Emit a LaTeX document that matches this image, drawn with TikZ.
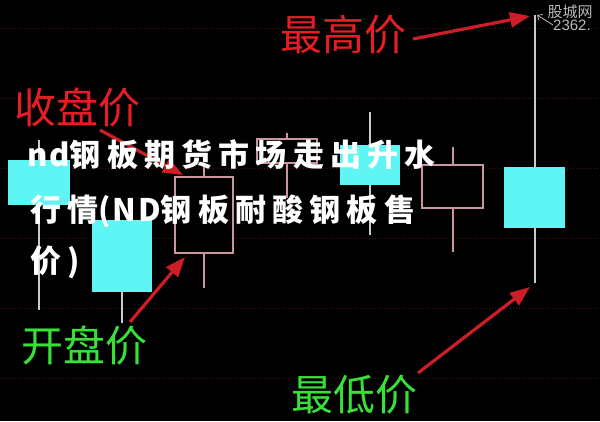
\documentclass[tikz,border=0pt]{standalone}
\usepackage{fontspec}
\usetikzlibrary{arrows.meta}
\newfontfamily\cjk{Noto Sans CJK SC}
\newfontfamily\cjkhand[LetterSpace=20]{Noto Sans CJK SC}
\newfontfamily\cjkhandlat[LetterSpace=6]{Noto Sans CJK SC}
\newfontfamily\latsans{Liberation Sans}
\definecolor{cyanc}{RGB}{95,245,245}
\definecolor{wickc}{RGB}{195,205,205}
\definecolor{outc}{RGB}{200,150,155}
\definecolor{gridc}{RGB}{75,18,18}
\definecolor{redlbl}{RGB}{228,30,36}
\definecolor{greenlbl}{RGB}{55,225,55}
\definecolor{arrowc}{RGB}{205,30,40}
\definecolor{wmc}{RGB}{185,185,185}
\tikzset{
  gridline/.style={gridc, line width=1pt, dash pattern=on 1pt off 2pt},
  cbox/.style={draw=none, fill=cyanc, inner sep=0pt, outer sep=0pt},
  obox/.style={draw=outc, line width=1.8pt, fill=black, inner sep=0pt, outer sep=0pt},
  cwick/.style={wickc, line width=1.8pt},
  owick/.style={outc, line width=1.8pt},
  redlabel/.style={text=redlbl, font=\cjk\fontsize{42}{46}\selectfont, inner sep=0pt},
  greenlabel/.style={text=greenlbl, font=\cjk\fontsize{42}{46}\selectfont, inner sep=0pt},
  callout/.style={arrowc, line width=3.2pt, -{Triangle[length=20pt,width=15pt]}},
  handtext/.style={text=white, font=\cjkhand\bfseries\fontsize{31}{36}\selectfont, inner sep=0pt, anchor=base west},
}
\begin{document}
\begin{tikzpicture}[x=1pt,y=-1pt]
\fill[black] (0,0) rectangle (600,421);
\useasboundingbox (0,0) rectangle (600,421);
% dotted grid
\foreach \yy in {28,98,168,238,308,378}
  \draw[gridline] (0,\yy) -- (600,\yy);
% candle 1 (cyan)
\coordinate (w1t) at (39,140); \coordinate (w1b) at (39,310);
\draw[cwick] (w1t) -- (w1b);
\node[cbox, minimum width=62pt, minimum height=45pt] (c1) at (39,182.5) {};
% candle 2 (cyan)
\node[cbox, minimum width=60pt, minimum height=72pt] (c2) at (122,256) {};
\coordinate (w2b) at (122,323);
\draw[cwick] (c2.south) -- (w2b);
% candle 3 (hollow)
\coordinate (w3t) at (204,163); \coordinate (w3b) at (204,288);
\draw[owick] (w3t) -- (w3b);
\node[obox, minimum width=58pt, minimum height=76pt] (c3) at (204,215) {};
% candle 4 (hollow)
\coordinate (w4t) at (287,133); \coordinate (w4b) at (287,198);
\draw[owick] (w4t) -- (w4b);
\node[obox, minimum width=60pt, minimum height=24pt] (c4) at (287,151) {};
% candle 5 (cyan)
\coordinate (w5t) at (370,112); \coordinate (w5b) at (370,235);
\draw[cwick] (w5t) -- (w5b);
\node[cbox, minimum width=60pt, minimum height=40pt] (c5) at (370,165) {};
% candle 6 (hollow)
\coordinate (w6t) at (453,147); \coordinate (w6b) at (453,252);
\draw[owick] (w6t) -- (w6b);
\node[obox, minimum width=61pt, minimum height=43pt] (c6) at (452.5,186.5) {};
% candle 7 (cyan)
\coordinate (w7t) at (535,15); \coordinate (w7b) at (535,283);
\draw[cwick] (w7t) -- (w7b);
\node[cbox, minimum width=61pt, minimum height=61pt] (c7) at (534.5,197.5) {};
% watermark
\node[text=wmc, font=\cjk\fontsize{15}{16}\selectfont, inner sep=0pt] (wm) at (570,12) {股城网};
\node[text=wmc, font=\latsans\fontsize{15}{16}\selectfont, inner sep=0pt, anchor=west] (wmn) at (553,25) {2362.};
\draw[wmc, line width=0.8pt, {Straight Barb[length=4pt,width=7pt]}-] (537,15) -- (wmn.west);
% labels
\node[redlabel] (hi) at (343,35) {最高价};
\node[redlabel] (cl) at (77,107) {收盘价};
\node[greenlabel] (op) at (84,345) {开盘价};
\node[greenlabel] (lo) at (354,395) {最低价};
% callout arrows
\coordinate (hiS) at (413,39);  \coordinate (hiE) at (530,16);
\coordinate (clS) at (100,130); \coordinate (clE) at (183,175);
\coordinate (opS) at (130,322); \coordinate (opE) at (185,257);
\coordinate (loS) at (418,373); \coordinate (loE) at (530,287);
\draw[callout] (hiS) -- (hiE);
\draw[callout] (clS) -- (clE);
\draw[callout] (opS) -- (opE);
\draw[callout] (loS) -- (loE);
% overlay text
\node[handtext] (t1) at (27,166) {{\cjkhandlat\bfseries nd}钢板期货市场走出升水};
\node[handtext] (t2) at (30,221) {行情{\cjkhandlat\bfseries (ND}钢板耐酸钢板售};
\node[handtext] (t3) at (30,272) {价)};
\end{tikzpicture}
\end{document}
